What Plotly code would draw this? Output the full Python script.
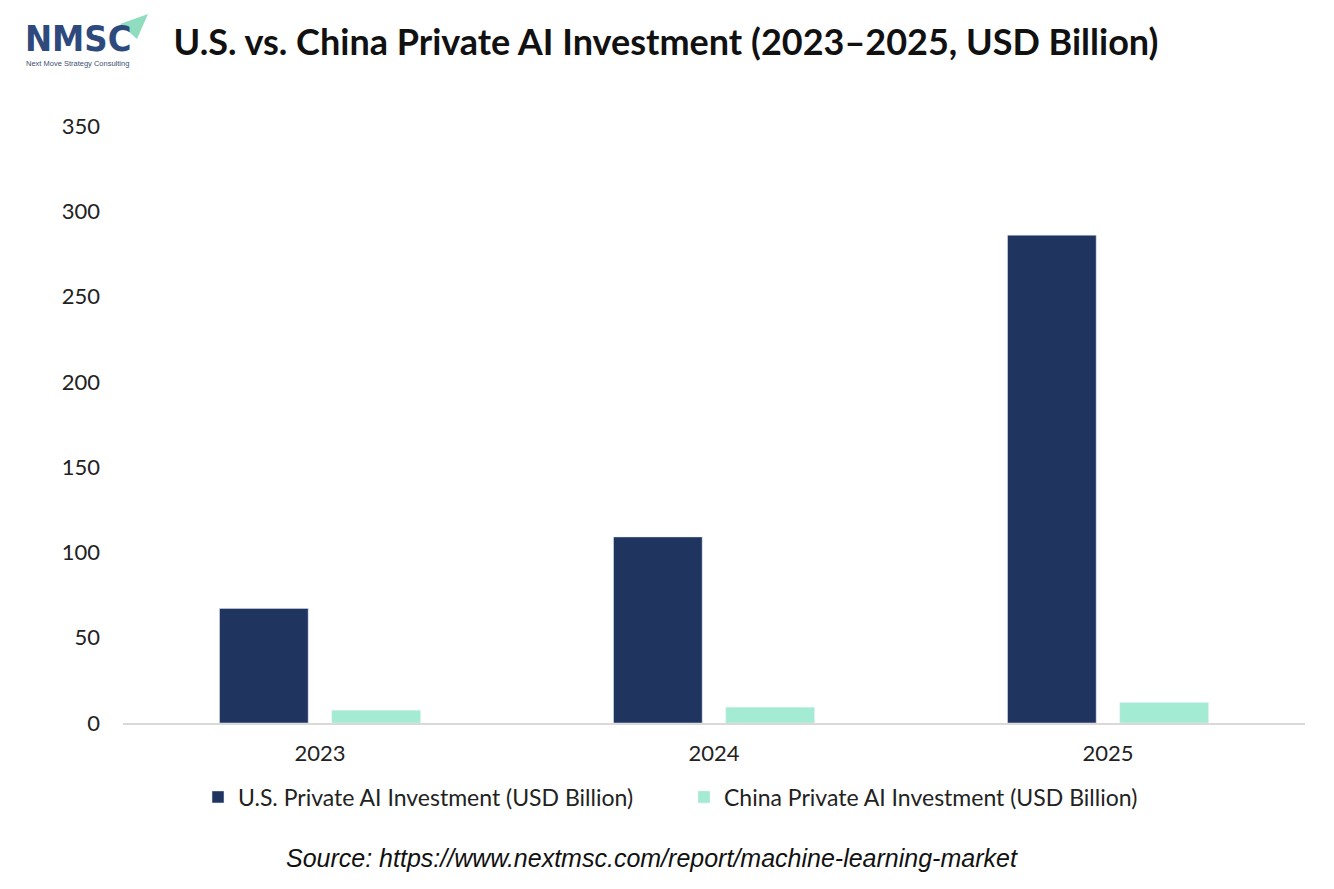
import plotly.graph_objects as go

years = ["2023", "2024", "2025"]
us_invest = [67.2, 109.1, 286.0]
china_invest = [7.5, 9.3, 12.0]

us_name = "U.S. Private AI Investment (USD Billion)"
china_name = "China Private AI Investment (USD Billion)"

y_ticks = [0, 50, 100, 150, 200, 250, 300, 350]

navy = "#1F3560"
mint = "#A3EBD3"
font_main = "Lato, Carlito, 'Open Sans', sans-serif"

W, H = 1334, 889
OFF = 8  # page body margin
L, R, T, B = 115, 37, 118, 174
plot_w = W - L - R
plot_h = H - T - B


def px(sx):
    # screen x -> paper x
    return (sx - OFF - L) / plot_w


def py(sy):
    # screen y -> paper y
    return (H - B - (sy - OFF)) / plot_h


fig = go.Figure()

fig.add_trace(go.Bar(x=years, y=us_invest, name=us_name, marker_color=navy))
fig.add_trace(go.Bar(x=years, y=china_invest, name=china_name, marker_color=mint))

fig.update_layout(
    width=W,
    height=H,
    paper_bgcolor="white",
    plot_bgcolor="white",
    barmode="group",
    bargap=0.43,
    bargroupgap=0.21,
    margin=dict(l=L, r=R, t=T, b=B),
    font=dict(family=font_main, size=22, color="#222222"),
    title=dict(
        text="<b>U.S. vs. China Private AI Investment (2023–2025, USD Billion)</b>",
        x=(666 - OFF) / W,
        xanchor="center",
        y=1 - (42 - OFF) / H,
        yanchor="middle",
        font=dict(family=font_main, size=36, color="#111111"),
    ),
    legend=dict(
        orientation="h",
        x=px(198),
        xanchor="left",
        y=py(797),
        yanchor="middle",
        font=dict(size=23, color="#222222"),
        itemwidth=30,
        entrywidth=441,
        entrywidthmode="pixels",
        traceorder="normal",
    ),
    showlegend=True,
)

fig.update_xaxes(
    showline=True,
    linecolor="#D9D9D9",
    linewidth=2,
    showgrid=False,
    ticks="",
    tickfont=dict(size=22),
    ticklabelstandoff=10,
)

fig.update_yaxes(
    range=[0, 350],
    tickvals=y_ticks,
    showgrid=False,
    zeroline=False,
    showline=False,
    ticks="",
    tickfont=dict(size=22),
    ticklabelstandoff=22,
)

# logo
fig.add_shape(
    type="path",
    xref="paper", yref="paper",
    path=f"M {px(120)} {py(24)} L {px(148)} {py(14)} L {px(137)} {py(39)} Z",
    fillcolor="#8FDDBE",
    line_width=0,
)
fig.add_annotation(
    text="<b>NMSC</b>", xref="paper", yref="paper",
    x=px(78), y=py(39), xanchor="center", yanchor="middle",
    showarrow=False,
    font=dict(family="'DejaVu Sans Condensed', 'DejaVu Sans', sans-serif", size=36, color="#2E4A7D"),
)
fig.add_annotation(
    text="Next Move Strategy Consulting", xref="paper", yref="paper",
    x=px(77), y=py(64), xanchor="center", yanchor="middle",
    showarrow=False,
    font=dict(family="'Liberation Sans', Arial, sans-serif", size=7.5, color="#3D4F73"),
)

fig.add_annotation(
    text="<i>Source: https://www.nextmsc.com/report/machine-learning-market</i>",
    xref="paper", yref="paper",
    x=px(652), y=py(858), xanchor="center", yanchor="middle",
    showarrow=False,
    font=dict(family="'Liberation Sans', Arial, sans-serif", size=25, color="#111111"),
)

fig.write_html("out.html")
